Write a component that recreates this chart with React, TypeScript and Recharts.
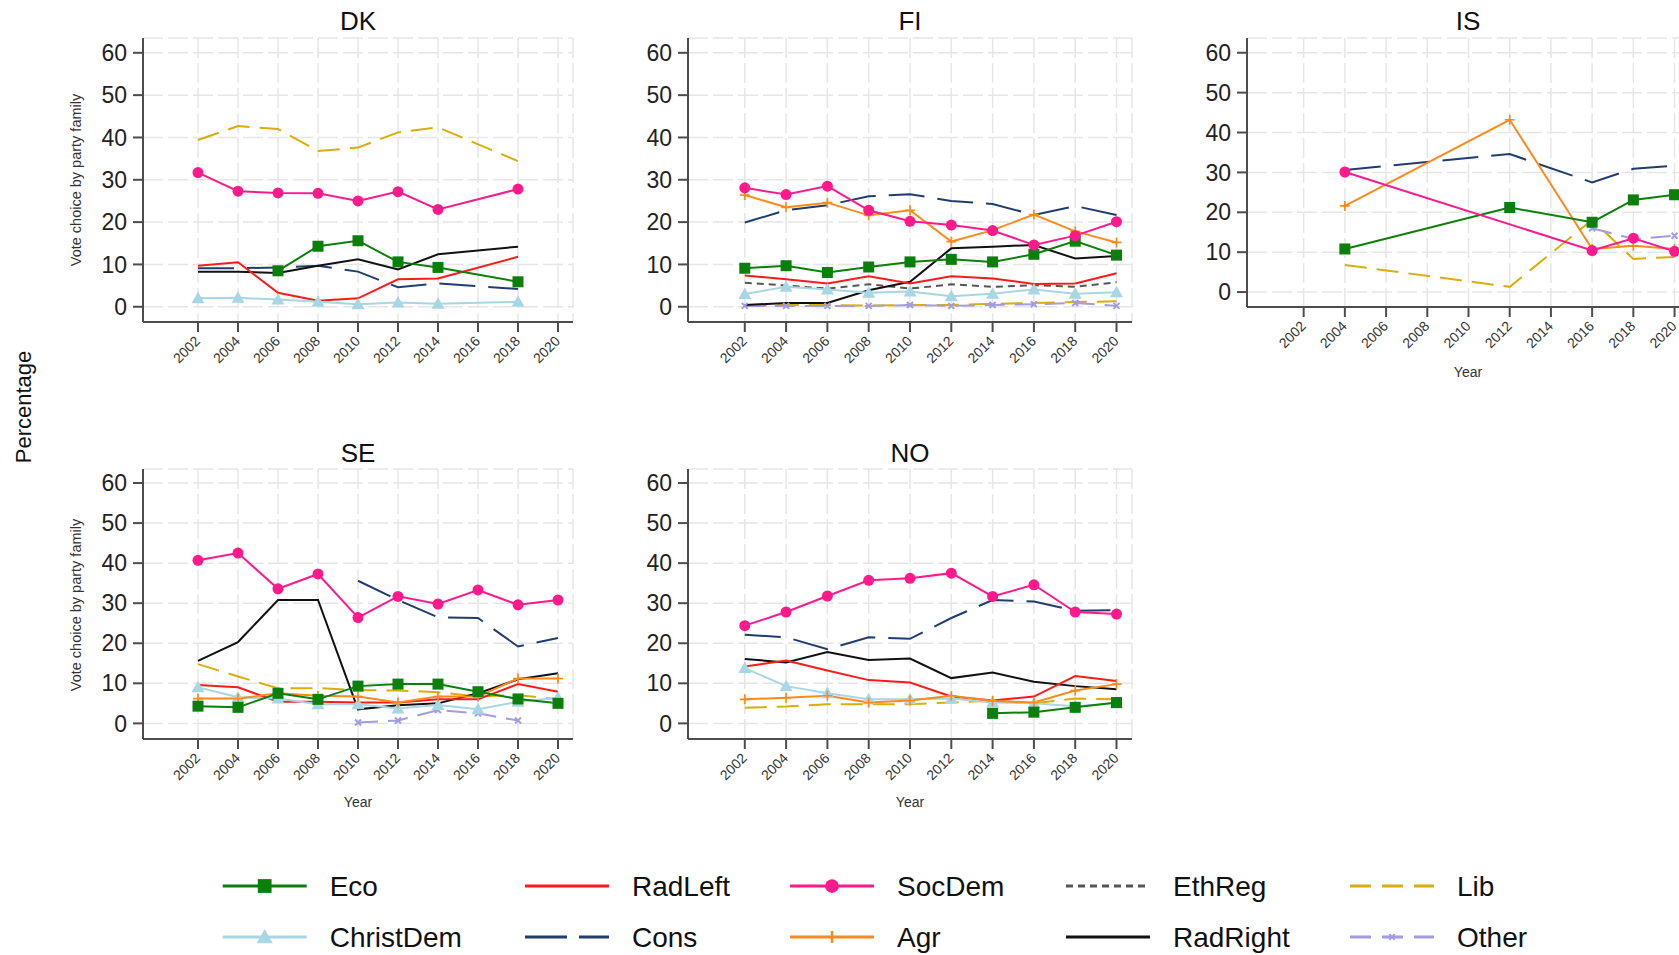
import React from 'react';
import { LineChart, Line, XAxis, YAxis, CartesianGrid } from 'recharts';

const FONT = '"Liberation Sans", Arial, Helvetica, sans-serif';

// ---------- data ----------
const YEARS = [2002, 2004, 2006, 2008, 2010, 2012, 2014, 2016, 2018, 2020];
const Y_TICKS = [0, 10, 20, 30, 40, 50, 60];
const LEGEND_ROW_1 = ['Eco', 'RadLeft', 'SocDem', 'EthReg', 'Lib'];
const LEGEND_ROW_2 = ['ChristDem', 'Cons', 'Agr', 'RadRight', 'Other'];

// Denmark
const DK_ECO = [null, null, 8.5, 14.3, 15.6, 10.6, 9.3, null, 5.9, null];
const DK_RADLEFT = [9.7, 10.5, 3.3, 1.4, 2.0, 6.5, 6.7, null, 11.8, null];
const DK_SOCDEM = [31.7, 27.3, 26.9, 26.8, 25.0, 27.2, 23.0, null, 27.8, null];
const DK_LIB = [39.4, 42.7, 42.0, 36.8, 37.6, 41.2, 42.4, null, 34.4, null];
const DK_CHRISTDEM = [2.0, 2.1, 1.7, 1.2, 0.6, 1.0, 0.7, null, 1.2, null];
const DK_CONS = [9.1, 9.1, 9.3, 9.7, 8.3, 4.6, 5.5, null, 4.2, null];
const DK_RADRIGHT = [8.3, 8.3, 8.0, 9.7, 11.2, 8.8, 12.4, null, 14.2, null];

// Finland
const FI_ECO = [9.1, 9.7, 8.1, 9.4, 10.6, 11.2, 10.6, 12.4, 15.5, 12.2];
const FI_RADLEFT = [7.4, 6.5, 5.5, 7.2, 5.5, 7.2, 6.7, 5.4, 5.5, 7.9];
const FI_SOCDEM = [28.1, 26.5, 28.5, 22.8, 20.2, 19.3, 18.0, 14.6, 16.8, 20.1];
const FI_ETHREG = [5.7, 5.0, 4.3, 5.3, 4.3, 5.3, 4.7, 5.1, 4.7, 5.8];
const FI_LIB = [0.2, 0.4, 0.4, 0.3, 0.4, 0.4, 0.7, 0.9, 1.1, 1.3];
const FI_CHRISTDEM = [3.0, 4.7, 4.1, 3.3, 3.6, 2.5, 3.1, 4.1, 3.1, 3.4];
const FI_CONS = [19.9, 22.8, 24.0, 26.1, 26.6, 25.0, 24.3, 21.7, 23.8, 21.7];
const FI_AGR = [26.4, 23.5, 24.6, 21.6, 22.8, 15.4, 18.1, 21.8, 17.8, 15.2];
const FI_RADRIGHT = [0.4, 0.9, 0.9, 3.9, 5.9, 13.8, 14.2, 14.6, 11.4, 12.0];
const FI_OTHER = [0.2, 0.2, 0.2, 0.2, 0.4, 0.2, 0.4, 0.6, 0.9, 0.2];

// Iceland
const IS_ECO = [null, 10.8, null, null, null, 21.2, null, 17.5, 23.1, 24.4];
const IS_SOCDEM = [null, 30.1, null, null, null, null, null, 10.4, 13.5, 10.2];
const IS_LIB = [null, 6.8, null, null, null, 1.3, null, 18.1, 8.3, 8.8];
const IS_CONS = [null, 30.6, null, null, null, 34.6, null, 27.5, 30.9, 31.7];
const IS_AGR = [null, 21.6, null, null, null, 43.2, null, 10.8, 11.6, 10.8];
const IS_OTHER = [null, null, null, null, null, null, null, 16.0, 13.3, 14.1];

// Sweden
const SE_ECO = [4.3, 4.0, 7.5, 6.0, 9.3, 9.8, 9.8, 7.9, 6.1, 5.0];
const SE_RADLEFT = [9.6, 9.0, 5.4, 5.4, 5.2, 5.2, 6.0, 6.0, 9.8, 7.9];
const SE_SOCDEM = [40.7, 42.5, 33.6, 37.3, 26.4, 31.7, 29.8, 33.3, 29.6, 30.8];
const SE_LIB = [14.8, 11.7, 8.8, 8.8, 8.3, 8.2, 7.8, 6.7, 7.1, 6.0];
const SE_CHRISTDEM = [9.0, 6.5, 6.2, 4.8, 4.8, 3.7, 4.6, 3.5, 5.4, 6.4];
const SE_CONS = [null, null, null, null, 35.6, 30.8, 26.5, 26.3, 19.2, 21.3];
const SE_AGR = [6.2, 6.2, 7.5, 6.9, 6.7, 5.2, 6.7, 6.7, 11.2, 11.2];
const SE_RADRIGHT = [15.6, 20.3, 30.8, 30.8, 3.5, 4.5, 5.0, 7.5, 11.0, 12.5];
const SE_OTHER = [null, null, null, null, 0.2, 0.7, 3.3, 2.5, 0.7, null];

// Norway
const NO_ECO = [null, null, null, null, null, null, 2.5, 2.8, 4.0, 5.2];
const NO_RADLEFT = [14.2, 15.7, 13.2, 10.8, 10.2, 6.7, 5.7, 6.7, 11.8, 10.6];
const NO_SOCDEM = [24.4, 27.8, 31.8, 35.7, 36.2, 37.5, 31.7, 34.6, 27.8, 27.3];
const NO_LIB = [3.9, 4.2, 4.8, 4.8, 4.8, 5.2, 5.7, 5.0, 6.2, 6.0];
const NO_CHRISTDEM = [13.8, 9.3, 7.5, 6.0, 6.0, 6.2, 5.2, 5.0, 4.3, 5.0];
const NO_CONS = [22.1, 21.5, 18.5, 21.5, 21.1, 26.3, 30.8, 30.4, 28.1, 28.3];
const NO_AGR = [6.0, 6.4, 6.9, 5.2, 5.7, 6.9, 5.6, 5.2, 8.2, 9.8];
const NO_RADRIGHT = [16.1, 15.2, 17.8, 15.8, 16.2, 11.3, 12.7, 10.4, 9.3, 8.5];

// ---------- styles ----------
type Kind = 'square' | 'circle' | 'triangle' | 'plus' | 'x' | 'none';
const STYLE: Record<string, { color: string; dash?: string; marker: Kind }> = {
  Eco: { color: '#0a7f0a', marker: 'square' },
  RadLeft: { color: '#ff1a1a', marker: 'none' },
  SocDem: { color: '#ff1a8c', marker: 'circle' },
  EthReg: { color: '#555555', dash: '7 5', marker: 'none' },
  Lib: { color: '#d8ae0a', dash: '22 10', marker: 'none' },
  ChristDem: { color: '#a9d6e5', marker: 'triangle' },
  Cons: { color: '#1f3e6e', dash: '36 13', marker: 'none' },
  Agr: { color: '#ff8a1c', marker: 'plus' },
  RadRight: { color: '#111111', marker: 'none' },
  Other: { color: '#a39ce0', dash: '20 10', marker: 'x' },
};
const DRAW_ORDER = ['Lib', 'Cons', 'EthReg', 'Other', 'RadRight', 'RadLeft', 'ChristDem', 'Agr', 'Eco', 'SocDem'];

function buildRows(series: Record<string, (number | null)[]>) {
  return YEARS.map((year, i) => {
    const row: any = { year };
    Object.keys(series).forEach((k) => {
      row[k] = series[k][i];
    });
    return row;
  });
}

const PANELS = [
  {
    name: 'DK', left: 60, top: 0, width: 520, height: 380, yw: 83,
    margin: { top: 38, right: 7, bottom: 8, left: 0 }, yDomain: [-3.6, 63.5],
    rows: buildRows({ Eco: DK_ECO, RadLeft: DK_RADLEFT, SocDem: DK_SOCDEM, Lib: DK_LIB, ChristDem: DK_CHRISTDEM, Cons: DK_CONS, RadRight: DK_RADRIGHT }),
  },
  {
    name: 'FI', left: 620, top: 0, width: 520, height: 380, yw: 68,
    margin: { top: 38, right: 8, bottom: 8, left: 0 }, yDomain: [-3.6, 63.5],
    rows: buildRows({ Eco: FI_ECO, RadLeft: FI_RADLEFT, SocDem: FI_SOCDEM, EthReg: FI_ETHREG, Lib: FI_LIB, ChristDem: FI_CHRISTDEM, Cons: FI_CONS, Agr: FI_AGR, RadRight: FI_RADRIGHT, Other: FI_OTHER }),
  },
  {
    name: 'IS', left: 1170, top: 0, width: 530, height: 380, yw: 77,
    margin: { top: 38, right: 10, bottom: 23, left: 0 }, yDomain: [-3.75, 63.7],
    rows: buildRows({ Eco: IS_ECO, SocDem: IS_SOCDEM, Lib: IS_LIB, Cons: IS_CONS, Agr: IS_AGR, Other: IS_OTHER }),
  },
  {
    name: 'SE', left: 60, top: 430, width: 520, height: 390, yw: 83,
    margin: { top: 39, right: 7, bottom: 31, left: 0 }, yDomain: [-3.9, 63.5],
    rows: buildRows({ Eco: SE_ECO, RadLeft: SE_RADLEFT, SocDem: SE_SOCDEM, Lib: SE_LIB, ChristDem: SE_CHRISTDEM, Cons: SE_CONS, Agr: SE_AGR, RadRight: SE_RADRIGHT, Other: SE_OTHER }),
  },
  {
    name: 'NO', left: 620, top: 430, width: 520, height: 390, yw: 68,
    margin: { top: 39, right: 8, bottom: 31, left: 0 }, yDomain: [-3.9, 63.5],
    rows: buildRows({ Eco: NO_ECO, RadLeft: NO_RADLEFT, SocDem: NO_SOCDEM, Lib: NO_LIB, ChristDem: NO_CHRISTDEM, Cons: NO_CONS, Agr: NO_AGR, RadRight: NO_RADRIGHT }),
  },
];

function marker(kind: Kind, color: string, cx: number, cy: number, key: string, s = 1) {
  switch (kind) {
    case 'square':
      return <rect key={key} x={cx - 5.5 * s} y={cy - 5.5 * s} width={11 * s} height={11 * s} fill={color} />;
    case 'circle':
      return <circle key={key} cx={cx} cy={cy} r={5.5 * s} fill={color} />;
    case 'triangle':
      return (
        <polygon
          key={key}
          points={`${cx},${cy - 6.5 * s} ${cx + 6.5 * s},${cy + 5 * s} ${cx - 6.5 * s},${cy + 5 * s}`}
          fill={color}
        />
      );
    case 'plus':
      return (
        <path key={key} d={`M${cx - 5 * s},${cy}H${cx + 5 * s}M${cx},${cy - 5 * s}V${cy + 5 * s}`} stroke={color} strokeWidth={1.7} fill="none" />
      );
    case 'x':
      return (
        <path key={key} d={`M${cx - 3 * s},${cy - 3 * s}L${cx + 3 * s},${cy + 3 * s}M${cx - 3 * s},${cy + 3 * s}L${cx + 3 * s},${cy - 3 * s}`} stroke={color} strokeWidth={2} fill="none" />
      );
    default:
      return <g key={key} />;
  }
}

const XTick = (p: any) => {
  const ax = p.x + 3;
  const ay = p.y + 8;
  return (
    <text x={ax} y={ay} textAnchor="end" transform={`rotate(-45 ${ax} ${ay})`} fontSize={14} fill="#333" fontFamily={FONT}>
      {p.payload.value}
    </text>
  );
};

function Panel({ cfg }: { cfg: any }) {
  const keys = DRAW_ORDER.filter((k) => k in cfg.rows[0]);
  return (
    <div style={{ position: 'absolute', left: cfg.left, top: cfg.top }}>
      <LineChart width={cfg.width} height={cfg.height} data={cfg.rows} margin={cfg.margin}>
        <CartesianGrid stroke="#e6e6e6" strokeDasharray="20 5" strokeWidth={1.5} />
        <XAxis
          dataKey="year"
          type="number"
          domain={[1999.25, 2020.75]}
          ticks={YEARS}
          interval={0}
          height={50}
          tickSize={10}
          axisLine={{ stroke: '#4d4d4d', strokeWidth: 2 }}
          tickLine={{ stroke: '#4d4d4d', strokeWidth: 2 }}
          tick={XTick}
          allowDataOverflow
        />
        <YAxis
          type="number"
          domain={cfg.yDomain}
          ticks={Y_TICKS}
          interval={0}
          width={cfg.yw}
          tickSize={10}
          tickMargin={6}
          axisLine={{ stroke: '#4d4d4d', strokeWidth: 2 }}
          tickLine={{ stroke: '#4d4d4d', strokeWidth: 2 }}
          tick={{ fontSize: 23, fill: '#222', fontFamily: FONT }}
          allowDataOverflow
        />
        {keys.map((k) => {
          const st = STYLE[k];
          return (
            <Line
              key={k}
              dataKey={k}
              type="linear"
              stroke={st.color}
              strokeWidth={2}
              strokeDasharray={st.dash}
              connectNulls
              isAnimationActive={false}
              activeDot={false}
              dot={(d: any) => {
                const key = `${cfg.name}-${k}-${d.index}`;
                if (d.cx == null || d.cy == null || d.value == null || Number.isNaN(d.cy)) return <g key={key} />;
                return marker(st.marker, st.color, d.cx, d.cy, key);
              }}
            />
          );
        })}
      </LineChart>
    </div>
  );
}

const LEGEND_COL_X = [222.7, 525, 790, 1066, 1350];
const LEGEND_ROW_Y = [886, 937];

function LegendItem({ name, x, y }: { name: string; x: number; y: number }) {
  const st = STYLE[name];
  const len = 84;
  let dash = st.dash;
  if (name === 'Cons') dash = '42 12';
  if (name === 'Lib' || name === 'Other') dash = '21 11';
  if (name === 'EthReg') dash = '7 5';
  return (
    <g>
      <line x1={x} y1={y} x2={x + len} y2={y} stroke={st.color} strokeWidth={3} strokeDasharray={dash} />
      {st.marker !== 'none' && st.marker !== 'plus' && marker(st.marker, st.color, x + len / 2, y, name + '-m', st.marker === 'x' ? 0.9 : 1.25)}
      {st.marker === 'plus' && <line x1={x + len / 2} y1={y - 6} x2={x + len / 2} y2={y + 6} stroke={st.color} strokeWidth={2.5} />}
      <text x={x + 107} y={y} dominantBaseline="central" fontSize={28} fill="#111" fontFamily={FONT}>
        {name}
      </text>
    </g>
  );
}

export default function App() {
  return (
    <div style={{ position: 'absolute', left: 0, top: 0, width: 1679, height: 955, overflow: 'hidden', background: '#fff' }}>
      {PANELS.map((p) => (
        <Panel key={p.name} cfg={p} />
      ))}
      <svg width={1679} height={955} style={{ position: 'absolute', left: 0, top: 0, pointerEvents: 'none' }} fontFamily={FONT}>
        <text x={358} y={21} textAnchor="middle" dominantBaseline="central" fontSize={26} fill="#111">DK</text>
        <text x={910} y={21} textAnchor="middle" dominantBaseline="central" fontSize={26} fill="#111">FI</text>
        <text x={1468} y={21} textAnchor="middle" dominantBaseline="central" fontSize={26} fill="#111">IS</text>
        <text x={358} y={453} textAnchor="middle" dominantBaseline="central" fontSize={26} fill="#111">SE</text>
        <text x={910} y={453} textAnchor="middle" dominantBaseline="central" fontSize={26} fill="#111">NO</text>

        <text x={1468} y={372} textAnchor="middle" dominantBaseline="central" fontSize={14} fill="#333">Year</text>
        <text x={358} y={802} textAnchor="middle" dominantBaseline="central" fontSize={14} fill="#333">Year</text>
        <text x={910} y={802} textAnchor="middle" dominantBaseline="central" fontSize={14} fill="#333">Year</text>

        <text x={76} y={180} textAnchor="middle" dominantBaseline="central" fontSize={14.5} fill="#333" transform="rotate(-90 76 180)">Vote choice by party family</text>
        <text x={76} y={605} textAnchor="middle" dominantBaseline="central" fontSize={14.5} fill="#333" transform="rotate(-90 76 605)">Vote choice by party family</text>
        <text x={23} y={407} textAnchor="middle" dominantBaseline="central" fontSize={22} fill="#111" transform="rotate(-90 23 407)">Percentage</text>

        {LEGEND_ROW_1.map((n, i) => (
          <LegendItem key={n} name={n} x={LEGEND_COL_X[i]} y={LEGEND_ROW_Y[0]} />
        ))}
        {LEGEND_ROW_2.map((n, i) => (
          <LegendItem key={n} name={n} x={LEGEND_COL_X[i]} y={LEGEND_ROW_Y[1]} />
        ))}
      </svg>
    </div>
  );
}
